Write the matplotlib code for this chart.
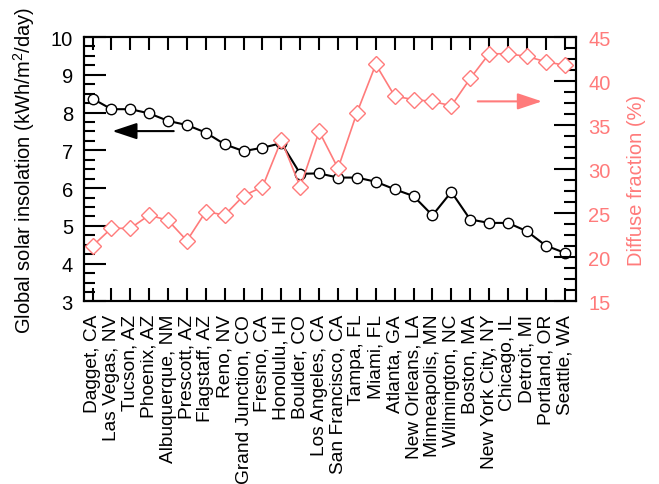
import matplotlib
matplotlib.use('agg')
import matplotlib.pyplot as plt
from matplotlib.ticker import MultipleLocator

plt.rcParams['font.family'] = ['Liberation Sans', 'DejaVu Sans']
plt.rcParams['mathtext.fontset'] = 'custom'
plt.rcParams['mathtext.rm'] = 'Liberation Sans'

# sites, sorted by insolation
cities = ["Dagget, CA", "Las Vegas, NV", "Tucson, AZ", "Phoenix, AZ", "Albuquerque, NM",
          "Prescott, AZ", "Flagstaff, AZ", "Reno, NV", "Grand Junction, CO", "Fresno, CA",
          "Honolulu, HI", "Boulder, CO", "Los Angeles, CA", "San Francisco, CA", "Tampa, FL",
          "Miami, FL", "Atlanta, GA", "New Orleans, LA", "Minneapolis, MN", "Wilmington, NC",
          "Boston, MA", "New York City, NY", "Chicago, IL", "Detroit, MI", "Portland, OR",
          "Seattle, WA"]
insolation = [8.37, 8.09, 8.09, 7.98, 7.78, 7.67, 7.47, 7.16, 6.98, 7.07,
              7.19, 6.38, 6.39, 6.28, 6.28, 6.17, 5.97, 5.79, 5.28, 5.90,
              5.17, 5.08, 5.08, 4.86, 4.48, 4.29]
diffuse = [21.3, 23.3, 23.3, 24.8, 24.2, 21.9, 25.2, 24.8, 27.0, 28.0,
           33.3, 28.0, 34.3, 30.1, 36.4, 41.9, 38.3, 37.9, 37.7, 37.2,
           40.3, 43.1, 43.1, 42.8, 42.2, 41.8]

red = "#ff7b7b"
xpos = list(range(len(cities)))

fig = plt.figure(figsize=(6.59, 4.85), dpi=100)
ax = fig.add_axes([0.1275, 0.3763, 0.7465, 0.5453])
ax2 = ax.twinx()

ax.plot(xpos, insolation, color="black", linewidth=1.5, marker="o", markersize=7.5,
        markerfacecolor="white", markeredgecolor="black", markeredgewidth=1, zorder=3)
ax2.plot(xpos, diffuse, color=red, linewidth=1.2, marker="D", markersize=8.5,
         markerfacecolor="white", markeredgecolor=red, markeredgewidth=1, zorder=3)

ax.set_xlim(-0.45, 25.6)
ax.set_ylim(3, 10)
ax2.set_ylim(15, 45)

ax.set_xticks(xpos)
ax.set_xticklabels(cities, rotation=90, fontsize=13.8)
ax.yaxis.set_major_locator(MultipleLocator(1))
ax.yaxis.set_minor_locator(MultipleLocator(0.25))
ax2.yaxis.set_major_locator(MultipleLocator(5))
ax2.yaxis.set_minor_locator(MultipleLocator(1.25))

ax.tick_params(axis="x", direction="in", top=True, bottom=True, length=9.5, width=1.5, pad=9)
ax.tick_params(axis="y", which="major", direction="in", left=True, right=False,
               length=16, width=1.5, labelsize=14.5, pad=8)
ax.tick_params(axis="y", which="minor", direction="in", left=True, right=False,
               length=8, width=1.5)
ax2.tick_params(axis="y", which="major", direction="in", length=16, width=1.5,
                labelsize=14.5, labelcolor=red, pad=9)
ax2.tick_params(axis="y", which="minor", direction="in", length=9, width=1.5)

for a in (ax, ax2):
    for s in a.spines.values():
        s.set_linewidth(1.5)

ax.set_ylabel("Global solar insolation (kWh/m$^2$/day)", fontsize=14.5)
ax.yaxis.set_label_coords(-0.095, 0.5)
ax2.set_ylabel("Diffuse fraction (%)", fontsize=14.5, color=red)
ax2.yaxis.set_label_coords(1.103, 0.463)

# arrows pointing to each axis
ax.annotate("", xy=(1.05, 7.51), xytext=(4.3, 7.51),
            arrowprops=dict(arrowstyle="-|>,head_length=1.5,head_width=0.5",
                            mutation_scale=10, color="black", linewidth=1.5,
                            shrinkA=0, shrinkB=0))
ax2.annotate("", xy=(23.8, 37.7), xytext=(20.4, 37.7),
             arrowprops=dict(arrowstyle="-|>,head_length=1.5,head_width=0.5",
                             mutation_scale=10, color=red, linewidth=1.5,
                             shrinkA=0, shrinkB=0))

fig.savefig("out.png", dpi=100)
